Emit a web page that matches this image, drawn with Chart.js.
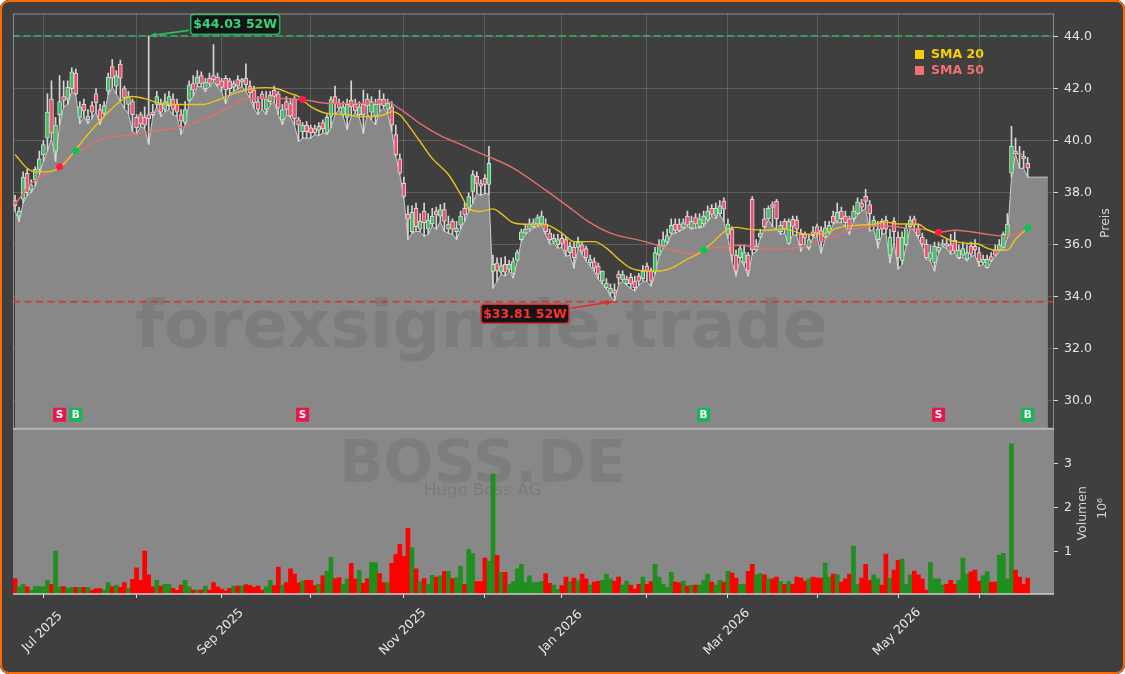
<!DOCTYPE html>
<html>
<head>
<meta charset="utf-8">
<script src="https://cdn.jsdelivr.net/npm/chart.js@4.4.1/dist/chart.umd.min.js"></script>
<style>
  html, body { margin: 0; padding: 0; background: #ffffff; }
  #wrap { position: relative; width: 1125px; height: 674px; border-radius: 9px; overflow: hidden; background: #3f3f3f; }
  #chart { position: absolute; left: 0; top: 0; }
  #frame { position: absolute; left: 0; top: 0; width: 1125px; height: 674px; box-sizing: border-box;
           border: 2.5px solid #ff6a00; border-radius: 9px; pointer-events: none; }
</style>
</head>
<body>
<div id="wrap">
  <canvas id="chart" width="1125" height="674"></canvas>
  <div id="frame"></div>
</div>
<script>
// daily bars, index 0 = late June 2025
const lows = [37.3, 36.9, 37.6, 37.9, 38.0, 38.25, 38.7, 39.2, 39.6, 40.1,
  39.2, 40.6, 41.3, 41.4, 41.9, 41.75, 40.66, 40.93, 40.66, 40.86,
  41.12, 40.62, 41.0, 41.78, 42.04, 41.81, 41.5, 41.24, 41.05, 40.36,
  40.24, 40.55, 40.47, 39.86, 40.93, 41.31, 40.93, 41.12, 41.2, 41.0,
  40.93, 40.24, 40.62, 41.5, 41.7, 42.08, 42.08, 41.89, 42.08, 42.27,
  42.08, 41.89, 41.43, 41.81, 41.9, 42.0, 42.08, 41.9, 41.62, 41.24,
  41.0, 41.24, 41.0, 41.39, 41.5, 41.0, 40.62, 41.0, 40.9, 40.6,
  39.97, 40.1, 40.1, 40.1, 40.24, 40.2, 40.3, 40.24, 40.5, 41.0,
  41.2, 40.93, 40.43, 40.93, 41.05, 40.9, 40.28, 41.05, 40.8, 40.62,
  41.12, 41.24, 41.05, 40.36, 39.4, 38.7, 37.8, 36.21, 36.44, 36.52,
  36.5, 36.33, 36.4, 36.71, 36.6, 36.9, 36.52, 36.45, 36.4, 36.21,
  36.6, 36.9, 37.29, 37.6, 37.98, 37.9, 37.98, 37.94, 34.33, 34.6,
  34.87, 34.8, 34.99, 34.72, 35.37, 36.14, 36.4, 36.52, 36.64, 36.71,
  36.75, 36.4, 36.02, 36.05, 35.87, 35.9, 35.56, 35.6, 35.1, 35.87,
  35.64, 35.37, 35.18, 34.99, 34.68, 34.49, 34.3, 34.03, 33.81, 34.49,
  34.6, 34.45, 34.33, 34.22, 34.45, 34.6, 34.6, 34.41, 34.87, 35.56,
  35.87, 36.02, 36.4, 36.45, 36.52, 36.6, 36.71, 36.6, 36.65, 36.65,
  36.7, 36.9, 37.1, 37.0, 37.17, 36.9, 36.25, 35.37, 34.79, 35.45,
  35.18, 34.79, 35.64, 35.75, 36.25, 36.64, 36.98, 36.7, 36.6, 36.4,
  36.45, 36.02, 36.4, 36.35, 35.75, 36.06, 35.8, 36.3, 36.3, 35.68,
  36.21, 36.4, 36.79, 36.85, 36.85, 36.7, 36.4, 36.9, 37.17, 37.29,
  37.4, 36.52, 36.6, 35.87, 36.4, 36.45, 35.3, 36.14, 35.06, 35.25,
  35.94, 36.64, 36.55, 36.25, 35.94, 35.45, 35.37, 34.99, 35.68, 35.94,
  35.85, 35.64, 35.7, 35.45, 35.55, 35.37, 35.55, 35.6, 35.18, 35.25,
  35.1, 35.35, 35.56, 35.75, 35.87, 36.25, 38.6, 39.5, 38.94, 38.94,
  38.6];
const highs = [37.9, 37.45, 38.8, 38.9, 38.5, 39.0, 39.6, 40.0, 41.8, 42.3,
  40.9, 42.5, 42.3, 42.3, 42.8, 42.75, 41.5, 41.6, 41.2, 41.5,
  42.0, 41.4, 41.5, 42.6, 43.12, 42.7, 43.1, 42.1, 41.9, 41.6,
  41.0, 41.1, 41.3, 44.03, 41.4, 41.9, 41.6, 41.8, 41.9, 41.8,
  41.6, 41.2, 41.5, 42.3, 42.5, 42.7, 42.65, 42.4, 42.6, 43.7,
  42.6, 42.4, 42.5, 42.4, 42.3, 42.5, 42.4, 42.96, 42.3, 42.1,
  41.7, 41.9, 41.9, 41.9, 42.1, 41.9, 41.4, 41.7, 41.6, 41.7,
  40.9, 40.7, 40.75, 40.6, 40.6, 40.7, 40.8, 41.0, 41.7, 42.1,
  41.6, 41.5, 41.6, 42.3, 41.6, 41.5, 41.95, 41.8, 41.7, 41.6,
  41.95, 41.8, 41.6, 41.5, 40.6, 39.5, 38.6, 37.5, 37.5, 37.6,
  37.2, 37.6, 37.2, 37.4, 37.45, 37.55, 37.6, 37.1, 37.0, 36.9,
  37.3, 37.6, 38.0, 38.85, 38.8, 38.5, 38.7, 39.78, 35.6, 35.5,
  35.5, 35.55, 35.4, 35.5, 35.8, 36.6, 36.8, 37.0, 37.0, 37.15,
  37.3, 37.0, 36.6, 36.4, 36.4, 36.4, 36.3, 36.1, 36.1, 36.3,
  36.1, 35.95, 35.6, 35.5, 35.3, 35.0, 34.7, 34.5, 34.5, 35.0,
  35.0, 34.8, 34.9, 34.8, 34.9, 35.2, 35.3, 35.1, 35.9, 36.2,
  36.5, 36.6, 37.0, 37.0, 37.0, 37.0, 37.3, 37.1, 37.2, 37.2,
  37.3, 37.5, 37.55, 37.6, 37.7, 37.8, 37.0, 36.7, 35.8, 36.0,
  36.0, 35.7, 37.85, 36.2, 36.6, 37.4, 37.5, 37.65, 37.75, 36.9,
  37.0, 37.0, 37.1, 37.1, 36.6, 36.5, 36.4, 36.7, 36.8, 36.7,
  36.9, 36.9, 37.3, 37.6, 37.45, 37.3, 37.1, 37.5, 37.8, 37.75,
  38.13, 37.7, 37.1, 36.9, 37.0, 37.1, 36.6, 37.05, 36.5, 36.5,
  36.8, 37.1, 37.1, 36.8, 36.45, 36.2, 36.0, 36.1, 36.1, 36.2,
  36.2, 36.4, 36.5, 36.0, 36.1, 36.0, 36.1, 36.2, 35.9, 35.6,
  35.6, 35.7, 36.0, 36.2, 36.5, 37.2, 40.55, 40.1, 39.78, 39.6,
  39.35];
const opens = [37.7, 37.1, 37.75, 38.75, 38.1, 38.5, 38.9, 39.45, 40.1, 41.6,
  39.6, 41.0, 41.7, 41.6, 42.0, 42.6, 40.9, 41.4, 40.8, 41.35,
  41.8, 41.2, 41.05, 41.9, 42.85, 42.1, 42.95, 42.0, 41.4, 41.5,
  40.9, 41.0, 40.9, 41.0, 41.1, 41.4, 41.4, 41.2, 41.35, 41.6,
  41.4, 41.0, 40.7, 41.55, 42.2, 42.2, 42.5, 42.0, 42.4, 42.5,
  42.45, 42.3, 42.4, 42.3, 42.05, 42.35, 42.25, 42.4, 42.1, 41.95,
  41.5, 41.8, 41.2, 41.5, 41.95, 41.8, 40.8, 41.5, 41.43, 41.6,
  40.8, 40.35, 40.6, 40.5, 40.47, 40.4, 40.7, 40.3, 40.93, 41.7,
  41.45, 41.0, 40.9, 41.55, 41.4, 41.0, 41.4, 41.6, 41.1, 40.95,
  41.6, 41.6, 41.2, 41.3, 40.24, 39.3, 38.36, 37.17, 36.5, 37.4,
  36.6, 37.3, 36.6, 36.8, 37.3, 37.1, 37.35, 36.6, 36.9, 36.5,
  36.75, 37.4, 37.4, 38.05, 38.63, 38.35, 38.55, 38.32, 34.98, 35.3,
  34.95, 35.25, 35.05, 34.9, 35.4, 36.2, 36.45, 36.6, 36.7, 36.8,
  36.8, 36.8, 36.45, 36.1, 36.0, 36.25, 36.2, 35.7, 35.9, 35.9,
  36.0, 35.85, 35.3, 35.35, 35.18, 34.6, 34.35, 34.14, 34.26, 34.87,
  34.65, 34.5, 34.75, 34.6, 34.8, 34.7, 35.18, 35.0, 34.95, 35.6,
  35.95, 36.1, 36.45, 36.8, 36.8, 36.65, 37.1, 36.65, 37.05, 36.7,
  36.8, 36.95, 37.4, 37.1, 37.2, 37.68, 36.4, 36.6, 35.6, 35.5,
  35.3, 35.6, 37.75, 35.8, 36.3, 37.0, 37.0, 37.55, 37.67, 36.5,
  36.9, 36.05, 36.98, 36.95, 36.4, 36.4, 35.9, 36.5, 36.7, 36.55,
  36.3, 36.45, 37.1, 36.9, 37.3, 37.1, 37.0, 37.0, 37.2, 37.6,
  37.86, 37.55, 36.7, 36.2, 36.9, 36.95, 35.6, 36.9, 36.3, 35.4,
  36.0, 36.7, 37.0, 36.6, 36.3, 36.02, 35.45, 35.3, 35.75, 35.95,
  36.05, 36.0, 36.17, 35.5, 35.6, 35.45, 35.95, 35.94, 35.7, 35.3,
  35.12, 35.55, 35.8, 35.8, 35.9, 36.3, 38.75, 39.6, 39.5, 39.4,
  39.13];
const closes = [37.5, 37.3, 38.6, 38.0, 38.3, 38.9, 39.3, 39.85, 41.1, 40.3,
  40.6, 41.5, 41.55, 42.05, 42.65, 41.8, 41.3, 41.15, 40.95, 41.1,
  41.45, 40.8, 41.35, 42.45, 42.4, 42.5, 42.4, 41.65, 41.7, 41.0,
  40.5, 40.65, 40.6, 40.85, 41.0, 41.7, 41.1, 41.5, 41.7, 41.2,
  41.1, 40.75, 41.2, 42.15, 41.95, 42.45, 42.2, 42.25, 42.2, 42.35,
  42.15, 42.05, 41.95, 42.0, 42.2, 42.1, 42.35, 42.15, 41.85, 41.45,
  41.2, 41.6, 41.6, 41.75, 41.7, 41.25, 41.2, 41.2, 40.95, 40.85,
  40.6, 40.6, 40.35, 40.3, 40.3, 40.55, 40.45, 40.9, 41.58, 41.43,
  41.25, 41.3, 41.4, 41.3, 41.15, 41.3, 41.0, 41.35, 41.5, 41.4,
  41.4, 41.35, 41.45, 40.6, 39.45, 38.75, 37.86, 36.98, 37.25, 36.7,
  36.9, 36.85, 36.95, 37.1, 37.15, 37.35, 36.9, 36.8, 36.6, 36.65,
  37.1, 37.15, 37.85, 38.7, 38.36, 38.25, 38.32, 39.13, 35.25, 35.0,
  35.2, 34.95, 35.25, 35.35, 35.7, 36.5, 36.6, 36.8, 36.85, 37.05,
  37.1, 36.5, 36.2, 36.25, 36.2, 36.05, 35.75, 35.95, 35.5, 36.1,
  35.75, 35.5, 35.45, 35.1, 34.87, 34.99, 34.53, 34.33, 34.14, 34.72,
  34.85, 34.68, 34.5, 34.35, 34.6, 34.98, 34.99, 34.6, 35.7, 36.0,
  36.2, 36.35, 36.75, 36.55, 36.55, 36.85, 36.75, 36.9, 36.8, 37.0,
  37.1, 37.3, 37.17, 37.4, 37.5, 37.37, 36.8, 35.6, 35.0, 35.85,
  35.7, 35.0, 35.8, 35.95, 36.45, 36.7, 37.4, 37.44, 37.0, 36.75,
  36.6, 36.9, 36.71, 36.6, 36.0, 36.25, 36.2, 36.35, 36.45, 36.1,
  36.65, 36.75, 36.85, 37.25, 37.0, 36.85, 36.6, 37.3, 37.65, 37.45,
  37.67, 37.2, 36.95, 36.6, 36.6, 36.6, 36.3, 36.5, 35.5, 36.3,
  36.64, 36.95, 36.75, 36.35, 36.02, 35.5, 35.7, 35.94, 35.9, 36.05,
  35.95, 35.75, 35.75, 35.8, 35.85, 35.7, 35.64, 35.8, 35.35, 35.45,
  35.45, 35.4, 35.6, 36.0, 36.4, 36.8, 39.78, 39.5, 39.45, 39.3,
  38.94];
// millions of shares
const volumes = [0.40, 0.21, 0.27, 0.21, 0.14, 0.22, 0.22, 0.21, 0.36, 0.27,
  1.02, 0.21, 0.22, 0.18, 0.20, 0.20, 0.20, 0.20, 0.20, 0.13,
  0.17, 0.17, 0.14, 0.31, 0.22, 0.25, 0.20, 0.31, 0.18, 0.38,
  0.64, 0.36, 1.02, 0.48, 0.21, 0.36, 0.23, 0.27, 0.27, 0.18,
  0.13, 0.25, 0.36, 0.21, 0.14, 0.14, 0.14, 0.23, 0.14, 0.31,
  0.21, 0.16, 0.12, 0.18, 0.23, 0.23, 0.23, 0.26, 0.24, 0.20,
  0.23, 0.14, 0.21, 0.36, 0.24, 0.66, 0.25, 0.31, 0.62, 0.50,
  0.30, 0.35, 0.36, 0.36, 0.24, 0.27, 0.46, 0.56, 0.88, 0.40,
  0.42, 0.27, 0.39, 0.74, 0.39, 0.58, 0.29, 0.40, 0.76, 0.76,
  0.51, 0.31, 0.31, 0.74, 0.94, 1.17, 0.90, 1.53, 1.10, 0.62,
  0.33, 0.40, 0.27, 0.47, 0.43, 0.46, 0.56, 0.56, 0.40, 0.42,
  0.68, 0.27, 1.05, 0.96, 0.33, 0.33, 0.86, 0.79, 2.76, 0.92,
  0.54, 0.54, 0.27, 0.33, 0.62, 0.72, 0.31, 0.46, 0.31, 0.31,
  0.33, 0.51, 0.29, 0.25, 0.15, 0.24, 0.43, 0.33, 0.41, 0.35,
  0.50, 0.39, 0.25, 0.32, 0.34, 0.36, 0.50, 0.39, 0.34, 0.43,
  0.25, 0.34, 0.25, 0.16, 0.27, 0.43, 0.27, 0.33, 0.72, 0.43,
  0.27, 0.20, 0.54, 0.32, 0.30, 0.34, 0.23, 0.25, 0.25, 0.25,
  0.36, 0.50, 0.32, 0.25, 0.36, 0.32, 0.56, 0.52, 0.41, 0.27,
  0.27, 0.56, 0.72, 0.48, 0.51, 0.48, 0.39, 0.39, 0.43, 0.33,
  0.27, 0.33, 0.27, 0.43, 0.41, 0.34, 0.39, 0.43, 0.41, 0.41,
  0.75, 0.43, 0.50, 0.48, 0.32, 0.39, 0.50, 1.13, 0.27, 0.41,
  0.72, 0.36, 0.48, 0.39, 0.25, 0.95, 0.41, 0.59, 0.81, 0.84,
  0.27, 0.48, 0.57, 0.48, 0.39, 0.14, 0.76, 0.39, 0.39, 0.25,
  0.27, 0.36, 0.27, 0.36, 0.86, 0.50, 0.55, 0.59, 0.34, 0.46,
  0.55, 0.32, 0.32, 0.92, 0.97, 0.39, 3.44, 0.59, 0.43, 0.27,
  0.41];
// the low line runs on flat after the last bar
const areaTail = [38.6, 38.6, 38.6, 38.6, 38.6];

const sma20Idx = [0, 3, 5, 9, 12, 15, 18, 22, 25, 27, 29, 32, 36, 41, 46, 49, 54, 58, 62, 65, 68, 70, 73, 77, 82, 85, 89, 92, 93, 95, 97, 100, 103, 107, 110, 112, 115, 117, 118, 120, 123, 126, 131, 135, 138, 143, 146, 149, 152, 156, 159, 162, 166, 169, 172, 176, 178, 181, 185, 190, 194, 197, 200, 203, 208, 212, 215, 218, 223, 225, 228, 231, 235, 238, 240, 242, 245, 247, 250];
const sma20Val = [39.47, 38.94, 38.8, 38.82, 39.1, 39.66, 40.24, 40.93, 41.39, 41.62, 41.7, 41.62, 41.43, 41.39, 41.39, 41.5, 41.81, 41.99, 42.04, 41.99, 41.81, 41.7, 41.31, 41.05, 41.0, 40.93, 40.93, 41.05, 41.12, 41.0, 40.62, 39.97, 39.32, 38.7, 37.94, 37.4, 37.28, 37.35, 37.38, 37.2, 36.85, 36.79, 36.77, 36.45, 36.12, 36.12, 35.87, 35.45, 35.1, 34.99, 34.99, 35.1, 35.45, 35.68, 36.06, 36.6, 36.67, 36.6, 36.56, 36.6, 36.44, 36.4, 36.44, 36.64, 36.75, 36.79, 36.87, 36.8, 36.79, 36.6, 36.4, 36.17, 36.06, 36.02, 35.87, 35.79, 35.8, 36.21, 36.64];
const sma50Idx = [0, 4, 11, 15, 17, 21, 29, 37, 42, 49, 54, 57, 62, 65, 71, 78, 86, 92, 93, 96, 100, 105, 110, 115, 117, 123, 131, 138, 141, 147, 155, 161, 167, 170, 176, 179, 185, 192, 197, 200, 204, 208, 212, 216, 220, 224, 228, 232, 236, 240, 245, 247, 250];
const sma50Val = [37.55, 38.36, 39.0, 39.6, 39.7, 40.05, 40.24, 40.43, 40.55, 41.0, 41.39, 41.62, 41.62, 41.62, 41.58, 41.43, 41.43, 41.5, 41.43, 41.12, 40.66, 40.2, 39.86, 39.51, 39.38, 38.95, 38.1, 37.3, 36.95, 36.45, 36.14, 35.87, 35.64, 35.8, 35.94, 35.98, 35.83, 35.87, 36.06, 36.21, 36.44, 36.64, 36.71, 36.71, 36.64, 36.6, 36.48, 36.56, 36.5, 36.4, 36.33, 36.4, 36.64];

const sellIdx = [11, 71, 228];
const sellVal = [39.0, 41.58, 36.48];
const buyIdx = [15, 170, 250];
const buyVal = [39.6, 35.8, 36.64];

const high52 = 44.03, high52Idx = 33;
const low52 = 33.81, low52Idx = 148;

const monthTickIdx = [7, 30, 51, 73, 96, 116, 135, 156, 176, 198, 218, 238];
const monthTickLabels = ['Jul 2025', '', 'Sep 2025', '', 'Nov 2025', '', 'Jan 2026', '', 'Mar 2026', '', 'May 2026', ''];
const priceTicks = [30, 32, 34, 36, 38, 40, 42, 44];
const volumeTicks = [1, 2, 3];

const FONT = "'DejaVu Sans', sans-serif";
const labels = Array.from({ length: lows.length + areaTail.length + 1 }, (_, i) => String(i));
const isUp = closes.map((c, i) => c >= opens[i]);

function sparse(idx, vals) {
  const arr = new Array(labels.length).fill(null);
  idx.forEach((k, j) => { arr[k] = vals[j]; });
  return arr;
}

function fitText(c, text, weight, width, x, y) {
  c.font = weight + ' 60px ' + FONT;
  const size = 60 * width / c.measureText(text).width;
  c.font = weight + ' ' + size.toFixed(1) + 'px ' + FONT;
  c.fillText(text, x, y);
}

function arrow(c, x0, y0, x1, y1, color) {
  const ang = Math.atan2(y1 - y0, x1 - x0), hl = 7;
  c.strokeStyle = color; c.fillStyle = color; c.lineWidth = 1.7; c.setLineDash([]);
  c.beginPath(); c.moveTo(x0, y0); c.lineTo(x1 - hl * 0.7 * Math.cos(ang), y1 - hl * 0.7 * Math.sin(ang)); c.stroke();
  c.beginPath(); c.moveTo(x1, y1);
  c.lineTo(x1 - hl * Math.cos(ang - 0.42), y1 - hl * Math.sin(ang - 0.42));
  c.lineTo(x1 - hl * Math.cos(ang + 0.42), y1 - hl * Math.sin(ang + 0.42));
  c.closePath(); c.fill();
}

function tagBox(c, cx, cy, w, h, text, border, color) {
  c.fillStyle = '#151515';
  c.strokeStyle = border; c.lineWidth = 1.6;
  c.beginPath(); c.roundRect(cx - w / 2, cy - h / 2, w, h, 3); c.fill(); c.stroke();
  c.fillStyle = color; c.font = 'bold 12.5px ' + FONT;
  c.textAlign = 'center'; c.textBaseline = 'middle';
  c.fillText(text, cx, cy + 0.5);
}

const decorations = {
  id: 'decorations',
  beforeDraw(chart) {
    const c = chart.ctx;
    c.save();
    c.fillStyle = '#3f3f3f';
    c.fillRect(0, 0, chart.width, chart.height);
    c.restore();
  },
  beforeDatasetsDraw(chart) {
    const c = chart.ctx, a = chart.chartArea, yv = chart.scales.yv;
    c.save();
    c.fillStyle = '#888888';
    c.fillRect(a.left, yv.top, a.right - a.left, yv.bottom - yv.top);
    c.textAlign = 'center'; c.textBaseline = 'alphabetic';
    c.fillStyle = 'rgba(0,0,0,0.075)';
    fitText(c, 'BOSS.DE', 'bold', 287, 482.5, 482);
    c.fillStyle = 'rgba(0,0,0,0.1)';
    fitText(c, 'Hugo Boss AG', 'normal', 118, 482.5, 495);
    c.restore();
  },
  afterDatasetDraw(chart, args) {
    if (args.index !== 0) return;
    const c = chart.ctx;
    c.save();
    c.textAlign = 'center'; c.textBaseline = 'alphabetic';
    c.fillStyle = 'rgba(0,0,0,0.085)';
    fitText(c, 'forexsignale.trade', 'bold', 693, 481.5, 347);
    c.restore();
  },
  afterDatasetsDraw(chart) {
    const c = chart.ctx, a = chart.chartArea;
    const xs = chart.scales.x, y = chart.scales.y, yv = chart.scales.yv;
    c.save();

    // 52 week lines
    c.lineWidth = 1.8;
    c.setLineDash([7, 3.5]);
    c.strokeStyle = 'rgba(50,170,100,0.95)';
    let yy = y.getPixelForValue(high52);
    c.beginPath(); c.moveTo(a.left, yy); c.lineTo(a.right, yy); c.stroke();
    c.setLineDash([7, 4.5]);
    c.strokeStyle = 'rgba(205,55,55,0.85)';
    yy = y.getPixelForValue(low52);
    c.beginPath(); c.moveTo(a.left, yy); c.lineTo(a.right, yy); c.stroke();
    c.setLineDash([]);

    // 52 week tags
    const hx = xs.getPixelForValue(high52Idx), hy = y.getPixelForValue(high52);
    arrow(c, hx + 40, hy - 5.5, hx + 1, hy, '#2db865');
    tagBox(c, hx + 86.5, hy - 11.5, 89, 20, '$44.03 52W', '#2aa85c', '#34d67a');
    const lx = xs.getPixelForValue(low52Idx) - 2.5, ly = y.getPixelForValue(low52);
    arrow(c, lx - 41, ly + 6.5, lx, ly, '#e02a2a');
    tagBox(c, lx - 87, ly + 12, 88, 19, '$33.81 52W', '#d63030', '#ff3030');

    // legend
    c.font = 'bold 12.5px ' + FONT;
    c.textAlign = 'left'; c.textBaseline = 'middle';
    c.fillStyle = '#f5d000';
    c.fillRect(915, 50, 9, 9);
    c.fillText('SMA 20', 931, 54.5);
    c.fillStyle = '#f07070';
    c.fillRect(915, 66, 9, 9);
    c.fillText('SMA 50', 931, 70.5);

    // signal boxes
    c.font = 'bold 10.5px ' + FONT;
    c.textAlign = 'center';
    const boxY = y.bottom - 14;
    sellIdx.forEach(i => {
      const bx = xs.getPixelForValue(i);
      c.fillStyle = '#e8174b'; c.fillRect(bx - 6.5, boxY - 7, 13, 14);
      c.fillStyle = '#ffffff'; c.fillText('S', bx, boxY + 0.5);
    });
    buyIdx.forEach(i => {
      const bx = xs.getPixelForValue(i);
      c.fillStyle = '#14b75a'; c.fillRect(bx - 6.5, boxY - 7, 13, 14);
      c.fillStyle = '#ffffff'; c.fillText('B', bx, boxY + 0.5);
    });

    // panel frames
    c.strokeStyle = 'rgba(190,190,190,0.6)'; c.lineWidth = 1;
    c.strokeRect(a.left + 0.5, y.top + 0.5, a.right - a.left - 1, y.bottom - y.top);
    c.strokeStyle = '#b4b4b4'; c.lineWidth = 2;
    c.beginPath(); c.moveTo(a.left, y.bottom); c.lineTo(a.right, y.bottom); c.stroke();
    c.strokeStyle = '#cfcfcf'; c.lineWidth = 1.5;
    c.beginPath(); c.moveTo(a.left, yv.bottom); c.lineTo(a.right, yv.bottom); c.stroke();

    // month labels
    c.fillStyle = '#e6e6e6';
    c.font = '12.5px ' + FONT;
    c.textAlign = 'center'; c.textBaseline = 'middle';
    monthTickIdx.forEach((i, k) => {
      if (!monthTickLabels[k]) return;
      c.save();
      c.translate(xs.getPixelForValue(i) - 1, 632);
      c.rotate(-Math.PI / 4);
      c.fillText(monthTickLabels[k], 0, 0);
      c.restore();
    });

    // axis titles
    c.fillStyle = '#d4d4d4';
    const vtext = (t, x, ty) => { c.save(); c.translate(x, ty); c.rotate(-Math.PI / 2); c.fillText(t, 0, 0); c.restore(); };
    vtext('Preis', 1106, (y.top + y.bottom) / 2 + 2);
    vtext('Volumen', 1083, (yv.top + yv.bottom) / 2 + 2);
    vtext('10\u2076', 1103, (yv.top + yv.bottom) / 2 - 3);
    c.restore();
  }
};

const tickFont = { family: FONT, size: 12.5 };

new Chart(document.getElementById('chart'), {
  data: {
    labels: labels,
    datasets: [
      {
        type: 'line', label: 'Low', data: lows.concat(areaTail), yAxisID: 'y',
        fill: 'start', backgroundColor: '#888888', borderColor: 'rgba(215,215,215,0.9)',
        borderWidth: 1, pointRadius: 0, tension: 0, order: 6
      },
      {
        type: 'bar', label: 'Wick', data: lows.map((l, i) => [l, highs[i]]), yAxisID: 'y',
        backgroundColor: '#d6d6d6', barThickness: 1, grouped: false, order: 4
      },
      {
        type: 'bar', label: 'Body', data: opens.map((o, i) => [o, closes[i]]), yAxisID: 'y',
        backgroundColor: isUp.map(u => u ? '#3fbf5f' : '#f0506e'),
        borderColor: '#d8d8d8', borderWidth: 1, borderSkipped: false,
        barThickness: 4, minBarLength: 1, grouped: false, order: 3
      },
      {
        type: 'bar', label: 'Volumen', data: volumes, yAxisID: 'yv',
        backgroundColor: isUp.map(u => u ? '#1f8f1f' : '#ff0000'),
        barPercentage: 1, categoryPercentage: 1, grouped: false, order: 5
      },
      {
        type: 'line', label: 'SMA 50', data: sparse(sma50Idx, sma50Val), yAxisID: 'y',
        borderColor: '#e36f6f', borderWidth: 1.4, pointRadius: 0, spanGaps: true,
        cubicInterpolationMode: 'monotone', order: 2
      },
      {
        type: 'line', label: 'SMA 20', data: sparse(sma20Idx, sma20Val), yAxisID: 'y',
        borderColor: '#e8c41c', borderWidth: 1.4, pointRadius: 0, spanGaps: true,
        cubicInterpolationMode: 'monotone', order: 1
      },
      {
        type: 'line', label: 'Sell', data: sparse(sellIdx, sellVal), yAxisID: 'y', showLine: false,
        pointRadius: 3.5, pointBackgroundColor: '#ff1a4a', pointBorderWidth: 0, order: 0
      },
      {
        type: 'line', label: 'Buy', data: sparse(buyIdx, buyVal), yAxisID: 'y', showLine: false,
        pointRadius: 3.5, pointBackgroundColor: '#00c853', pointBorderWidth: 0, order: 0
      }
    ]
  },
  options: {
    responsive: false,
    animation: false,
    devicePixelRatio: 1,
    layout: { padding: { left: 13, top: 11, right: 0, bottom: 0 } },
    plugins: { legend: { display: false }, tooltip: { enabled: false } },
    scales: {
      x: {
        type: 'category',
        offset: true,
        grid: { color: 'rgba(255,255,255,0.16)', offset: false, tickLength: 4, tickColor: '#dddddd' },
        border: { display: false },
        ticks: { display: false, autoSkip: false },
        afterBuildTicks: s => { s.ticks = monthTickIdx.map(v => ({ value: v })); },
        afterFit: s => { s.height = 80; }
      },
      y: {
        position: 'right', stack: 'panels', stackWeight: 417,
        min: 28.93, max: 44.89,
        grid: { color: 'rgba(255,255,255,0.16)', tickLength: 4, tickColor: '#dddddd' },
        border: { display: false },
        ticks: { color: '#e6e6e6', font: tickFont, padding: 6, callback: v => Number(v).toFixed(1) },
        afterBuildTicks: s => { s.ticks = priceTicks.map(v => ({ value: v })); },
        afterFit: s => { s.width = 71; }
      },
      yv: {
        position: 'right', stack: 'panels', stackWeight: 166,
        min: 0.05, max: 3.78,
        grid: { drawOnChartArea: false, tickLength: 4, tickColor: '#dddddd' },
        border: { display: false },
        ticks: { color: '#e6e6e6', font: tickFont, padding: 6, callback: v => String(v) },
        afterBuildTicks: s => { s.ticks = volumeTicks.map(v => ({ value: v })); },
        afterFit: s => { s.width = 71; }
      }
    }
  },
  plugins: [decorations]
});
</script>
</body>
</html>
